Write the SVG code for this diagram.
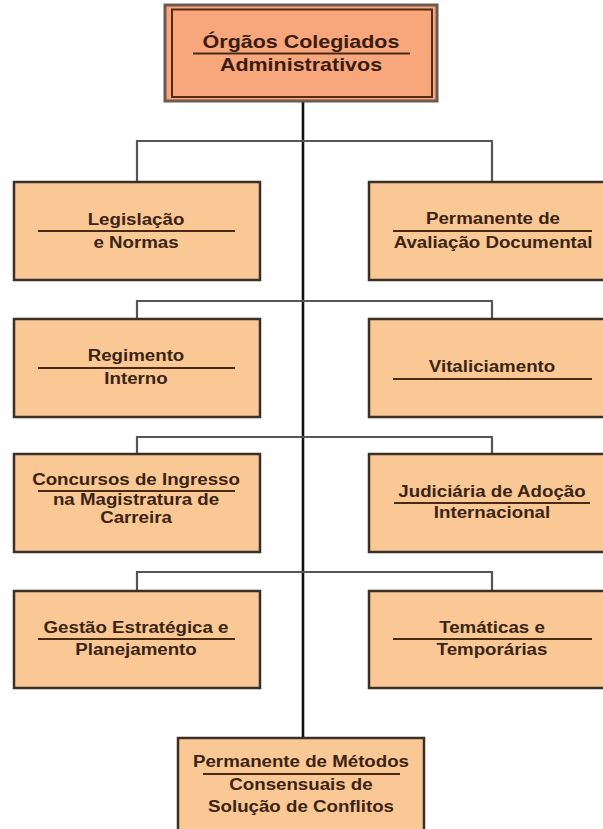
<svg xmlns="http://www.w3.org/2000/svg" width="603" height="829" viewBox="0 0 603 829">
<style>
.box{fill:#FAC894;stroke:#3a3028;stroke-width:2.5}
.t{font-family:"Liberation Sans",Arial,sans-serif;font-weight:bold;font-size:17px;fill:#3b2414;text-anchor:middle}
.tt{font-family:"Liberation Sans",Arial,sans-serif;font-weight:bold;font-size:19px;fill:#3a1c10;text-anchor:middle}
.ul{stroke:#4a2a12;stroke-width:2}
.br{fill:none;stroke:#555;stroke-width:2.2}
.main{fill:none;stroke:#111;stroke-width:2.6}
</style>
<rect width="603" height="829" fill="#fff"/>
<g id="connectors">
<line class="main" x1="303" y1="102" x2="303" y2="738"/>
<path class="br" d="M137 182V141H492V182"/>
<path class="br" d="M137 319V301H492V319"/>
<path class="br" d="M137 454V437H492V454"/>
<path class="br" d="M137 591V572H492V591"/>
</g>
<g id="root">
<rect x="165" y="5" width="272" height="96" fill="#F8A67C" stroke="#6a5a50" stroke-width="3"/>
<rect x="172" y="9.5" width="260" height="87.5" fill="none" stroke="#5a2818" stroke-width="2"/>
<g transform="translate(301,0) scale(1.13,1)">
<text class="tt" x="0" y="48">Órgãos Colegiados</text>
<text class="tt" x="0" y="71">Administrativos</text>
</g>
<line class="ul" x1="193" y1="53.5" x2="410" y2="53.5"/>
</g>
<g id="legislacao">
<rect class="box" x="14" y="182" width="246" height="98"/>
<g transform="translate(136,0) scale(1.1,1)">
<text class="t" x="0" y="225">Legislação</text>
<text class="t" x="0" y="248">e Normas</text>
</g>
<line class="ul" x1="38" y1="231" x2="235" y2="231"/>
</g>
<g id="avaliacao">
<rect class="box" x="369" y="182" width="246" height="98"/>
<g transform="translate(493,0) scale(1.1,1)">
<text class="t" x="0" y="224">Permanente de</text>
<text class="t" x="0" y="248">Avaliação Documental</text>
</g>
<line class="ul" x1="393" y1="231" x2="592" y2="231"/>
</g>
<g id="regimento">
<rect class="box" x="14" y="319" width="246" height="98"/>
<g transform="translate(136,0) scale(1.1,1)">
<text class="t" x="0" y="361">Regimento</text>
<text class="t" x="0" y="384">Interno</text>
</g>
<line class="ul" x1="38" y1="368" x2="235" y2="368"/>
</g>
<g id="vitaliciamento">
<rect class="box" x="369" y="319" width="246" height="98"/>
<g transform="translate(492,0) scale(1.1,1)">
<text class="t" x="0" y="372">Vitaliciamento</text>
</g>
<line class="ul" x1="393" y1="379" x2="592" y2="379"/>
</g>
<g id="concursos">
<rect class="box" x="14" y="454" width="246" height="98"/>
<g transform="translate(136,0) scale(1.1,1)">
<text class="t" x="0" y="485">Concursos de Ingresso</text>
<text class="t" x="0" y="505">na Magistratura de</text>
<text class="t" x="0" y="523">Carreira</text>
</g>
<line class="ul" x1="38" y1="491" x2="235" y2="491"/>
</g>
<g id="adocao">
<rect class="box" x="369" y="454" width="246" height="98"/>
<g transform="translate(492,0) scale(1.1,1)">
<text class="t" x="0" y="497">Judiciária de Adoção</text>
<text class="t" x="0" y="518">Internacional</text>
</g>
<line class="ul" x1="394" y1="503" x2="590" y2="503"/>
</g>
<g id="gestao">
<rect class="box" x="14" y="591" width="246" height="97"/>
<g transform="translate(136,0) scale(1.1,1)">
<text class="t" x="0" y="633">Gestão Estratégica e</text>
<text class="t" x="0" y="655">Planejamento</text>
</g>
<line class="ul" x1="38" y1="639" x2="235" y2="639"/>
</g>
<g id="tematicas">
<rect class="box" x="369" y="591" width="246" height="97"/>
<g transform="translate(492,0) scale(1.1,1)">
<text class="t" x="0" y="633">Temáticas e</text>
<text class="t" x="0" y="655">Temporárias</text>
</g>
<line class="ul" x1="393" y1="639" x2="592" y2="639"/>
</g>
<g id="metodos">
<rect class="box" x="178" y="738" width="246" height="98"/>
<g transform="translate(301,0) scale(1.1,1)">
<text class="t" x="0" y="767">Permanente de Métodos</text>
<text class="t" x="0" y="790">Consensuais de</text>
<text class="t" x="0" y="812">Solução de Conflitos</text>
</g>
<line class="ul" x1="203" y1="774" x2="400" y2="774"/>
</g>
</svg>
